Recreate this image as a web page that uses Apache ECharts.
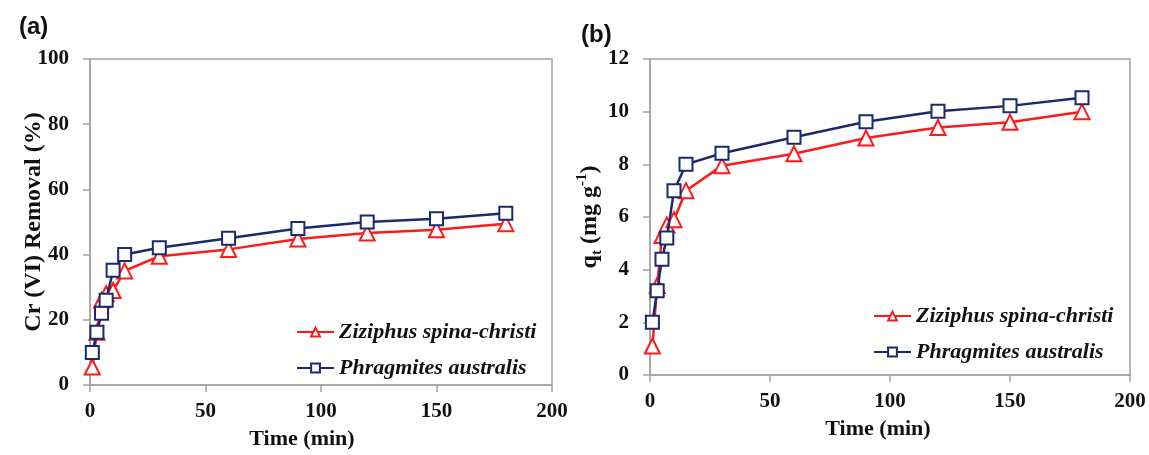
<!DOCTYPE html>
<html>
<head>
<meta charset="utf-8">
<script src="https://cdn.jsdelivr.net/npm/echarts@6/dist/echarts.min.js"></script>
<style>
html,body{margin:0;padding:0;background:#fff;}
#chart{width:1149px;height:455px;}
</style>
</head>
<body>
<div id="chart"></div>
<script>
const times = [1, 3, 5, 7, 10, 15, 30, 60, 90, 120, 150, 180];
const removalZiziphus = [5.5, 16.2, 26, 28, 29, 35, 39.5, 41.6, 44.8, 46.6, 47.6, 49.5];
const removalPhragmites = [10, 16.2, 22, 26, 35.2, 40, 42.1, 45, 48, 50, 51, 52.7];
const qtZiziphus = [1.1, 3.4, 5.3, 5.7, 5.9, 7.0, 7.95, 8.4, 9.0, 9.4, 9.6, 10.0];
const qtPhragmites = [2.0, 3.2, 4.4, 5.2, 7.0, 8.0, 8.42, 9.03, 9.62, 10.02, 10.22, 10.53];
const seriesNames = ['Ziziphus spina-christi', 'Phragmites australis'];
const panelLabels = ['(a)', '(b)'];
const xTitle = 'Time (min)';
const yTitleA = 'Cr (VI) Removal (%)';

const RED = '#FF1A1A';
const NAVY = '#1A2A6C';
const AXIS = '#A3A3A3';
const SERIF = '"Liberation Serif", "Times New Roman", serif';

function pairs(xs, ys) { return xs.map((x, i) => [x, ys[i]]); }

function xAxisCfg(gi, shift) {
  return {
    gridIndex: gi, type: 'value', min: 0, max: 200, interval: 50,
    name: xTitle, nameLocation: 'middle', nameGap: 43, nameMoveOverlap: false,
    nameTextStyle: { fontFamily: SERIF, fontWeight: 'bold', fontSize: 22, color: '#111', padding: [0, shift, 0, 0] },
    axisLine: { show: true, onZero: false, lineStyle: { color: AXIS, width: 1.5 } },
    axisTick: { show: true, inside: false, length: 7, lineStyle: { color: AXIS, width: 1.5 } },
    axisLabel: { margin: 16, fontFamily: SERIF, fontWeight: 'bold', fontSize: 21, color: '#111' },
    splitLine: { show: false }
  };
}
function yAxisCfg(gi, max, interval, name, gap) {
  return {
    gridIndex: gi, type: 'value', min: 0, max: max, interval: interval,
    name: name, nameLocation: 'middle', nameGap: gap, nameRotate: 90, nameMoveOverlap: false,
    nameTextStyle: {
      fontFamily: SERIF, fontWeight: 'bold', fontSize: 24, color: '#111',
      rich: {
        m: { fontFamily: SERIF, fontWeight: 'bold', fontSize: 24, color: '#111', verticalAlign: 'middle', lineHeight: 30 },
        sub: { fontFamily: SERIF, fontWeight: 'bold', fontSize: 15, color: '#111', verticalAlign: 'bottom', lineHeight: 30 },
        sup: { fontFamily: SERIF, fontWeight: 'bold', fontSize: 15, color: '#111', verticalAlign: 'top', lineHeight: 30 }
      }
    },
    axisLine: { show: true, lineStyle: { color: AXIS, width: 1.5 } },
    axisTick: { show: true, inside: false, length: 7, lineStyle: { color: AXIS, width: 1.5 } },
    axisLabel: { margin: 21, fontFamily: SERIF, fontWeight: 'bold', fontSize: 21, color: '#111' },
    splitLine: { show: false }
  };
}
function seriesCfg(name, gi, data, color, symbol, size) {
  return {
    name: name, type: 'line', xAxisIndex: gi, yAxisIndex: gi,
    data: data, symbol: symbol, symbolSize: size, showSymbol: true,
    lineStyle: { color: color, width: 2.5 },
    itemStyle: { color: '#fff', borderColor: color, borderWidth: 2 },
    emphasis: { disabled: true }, z: name === seriesNames[0] ? 2 : 3
  };
}
function legendCfg(left, top) {
  return {
    left: left, top: top, orient: 'vertical', itemGap: 14, padding: 0,
    itemWidth: 37, itemHeight: 11,
    textStyle: { fontFamily: SERIF, fontStyle: 'italic', fontWeight: 'bold', fontSize: 22, color: '#111' },
    data: seriesNames, selectedMode: false
  };
}

const chart = echarts.init(document.getElementById('chart'), null, { renderer: 'canvas' });
chart.setOption({
  backgroundColor: '#fff',
  animation: false,
  title: [
    { text: panelLabels[0], left: 14, top: 10, textStyle: { fontFamily: '"Liberation Sans", Arial, sans-serif', fontWeight: 'bold', fontSize: 24, color: '#111' } },
    { text: panelLabels[1], left: 576, top: 18, textStyle: { fontFamily: '"Liberation Sans", Arial, sans-serif', fontWeight: 'bold', fontSize: 24, color: '#111' } }
  ],
  grid: [
    { left: 90, top: 59, width: 462, height: 326, show: true, borderColor: AXIS, borderWidth: 1.5, backgroundColor: 'transparent' },
    { left: 650, top: 59, width: 480, height: 316, show: true, borderColor: AXIS, borderWidth: 1.5, backgroundColor: 'transparent' }
  ],
  xAxis: [xAxisCfg(0, 38), xAxisCfg(1, 24)],
  yAxis: [
    yAxisCfg(0, 100, 20, yTitleA, 44),
    yAxisCfg(1, 12, 2, '{m|q}{sub|t}{m| (mg g}{sup|-1}{m|)}', 45)
  ],
  legend: [legendCfg(296, 321), legendCfg(873, 305)],
  series: [
    seriesCfg(seriesNames[0], 0, pairs(times, removalZiziphus), RED, 'triangle', 15),
    seriesCfg(seriesNames[1], 0, pairs(times, removalPhragmites), NAVY, 'rect', 13),
    seriesCfg(seriesNames[0], 1, pairs(times, qtZiziphus), RED, 'triangle', 15),
    seriesCfg(seriesNames[1], 1, pairs(times, qtPhragmites), NAVY, 'rect', 13)
  ]
});
</script>
</body>
</html>
